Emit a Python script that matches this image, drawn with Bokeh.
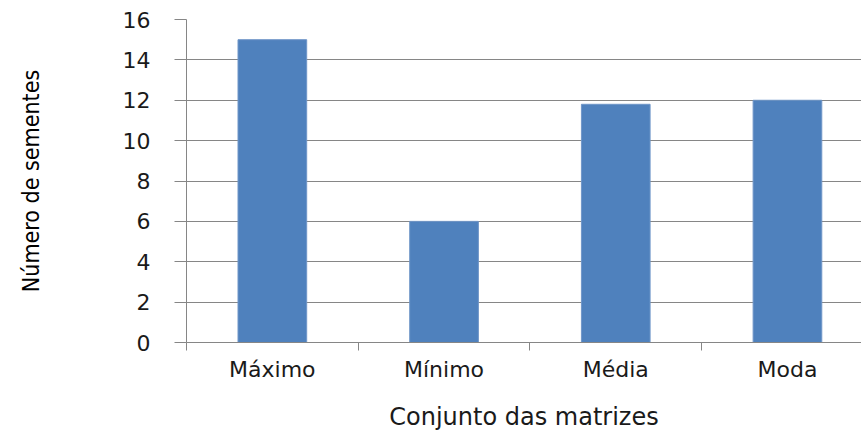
from bokeh.plotting import figure
from bokeh.models import Range1d, FixedTicker, ColumnDataSource
from bokeh.embed import file_html
from bokeh.resources import INLINE

categories = ["Máximo", "Mínimo", "Média", "Moda"]
values = [15, 6, 11.8, 12]
y_ticks = [0, 2, 4, 6, 8, 10, 12, 14, 16]
x_title = "Conjunto das matrizes"
y_title = "Número de sementes"

positions = [i + 0.5 for i in range(len(categories))]
boundaries = [float(i) for i in range(len(categories))]

src = ColumnDataSource(dict(x=positions, top=values, cat=categories))

GRAY = "#868686"
W, H = 861, 433
LEFT, TOP, BOTTOM = 186, 19, 89
CAT_PX = 171.7

p = figure(width=W, height=H, output_backend="svg", toolbar_location=None,
           x_range=Range1d(0, (W - LEFT) / CAT_PX), y_range=Range1d(0, 16),
           min_border_left=LEFT, min_border_right=0, min_border_top=TOP,
           min_border_bottom=BOTTOM)
p.outline_line_color = None
p.background_fill_color = "white"
p.border_fill_color = "white"

p.vbar(x="x", top="top", width=0.4, bottom=0, source=src,
       fill_color="#4F81BD", line_color="#6F96C8", line_width=1)

# y axis
p.yaxis.ticker = FixedTicker(ticks=y_ticks)
p.yaxis.axis_line_color = GRAY
p.yaxis.major_tick_line_color = GRAY
p.yaxis.major_tick_out = 12
p.yaxis.major_tick_in = 0
p.yaxis.minor_tick_line_color = None
p.yaxis.major_label_text_font = "DejaVu Sans"
p.yaxis.major_label_text_font_size = "22px"
p.yaxis.major_label_text_color = "#1a1a1a"
p.yaxis.major_label_standoff = 24
p.yaxis.axis_label = y_title
p.yaxis.axis_label_text_font = "'DejaVu Sans Condensed', 'Liberation Sans', sans-serif"
p.yaxis.axis_label_text_font_style = "normal"
p.yaxis.axis_label_text_font_size = "23px"
p.yaxis.axis_label_text_color = "#000000"
p.yaxis.axis_label_standoff = 76

# x axis
p.xaxis.ticker = FixedTicker(ticks=positions, minor_ticks=boundaries)
p.xaxis.major_label_overrides = {pos: c for pos, c in zip(positions, categories)}
p.xaxis.axis_line_color = GRAY
p.xaxis.major_tick_line_color = None
p.xaxis.major_tick_out = 0
p.xaxis.major_tick_in = 0
p.xaxis.minor_tick_line_color = GRAY
p.xaxis.minor_tick_out = 8
p.xaxis.minor_tick_in = 0
p.xaxis.major_label_text_font = "DejaVu Sans"
p.xaxis.major_label_text_font_size = "22px"
p.xaxis.major_label_text_color = "#1a1a1a"
p.xaxis.major_label_standoff = 6
p.xaxis.axis_label = x_title
p.xaxis.axis_label_text_font = "DejaVu Sans"
p.xaxis.axis_label_text_font_style = "normal"
p.xaxis.axis_label_text_font_size = "24px"
p.xaxis.axis_label_text_color = "#1a1a1a"
p.xaxis.axis_label_standoff = 18

p.xgrid.grid_line_color = None
p.ygrid.ticker = FixedTicker(ticks=y_ticks)
p.ygrid.grid_line_color = GRAY
p.ygrid.grid_line_width = 1

open("out.html", "w").write(file_html(p, INLINE))
